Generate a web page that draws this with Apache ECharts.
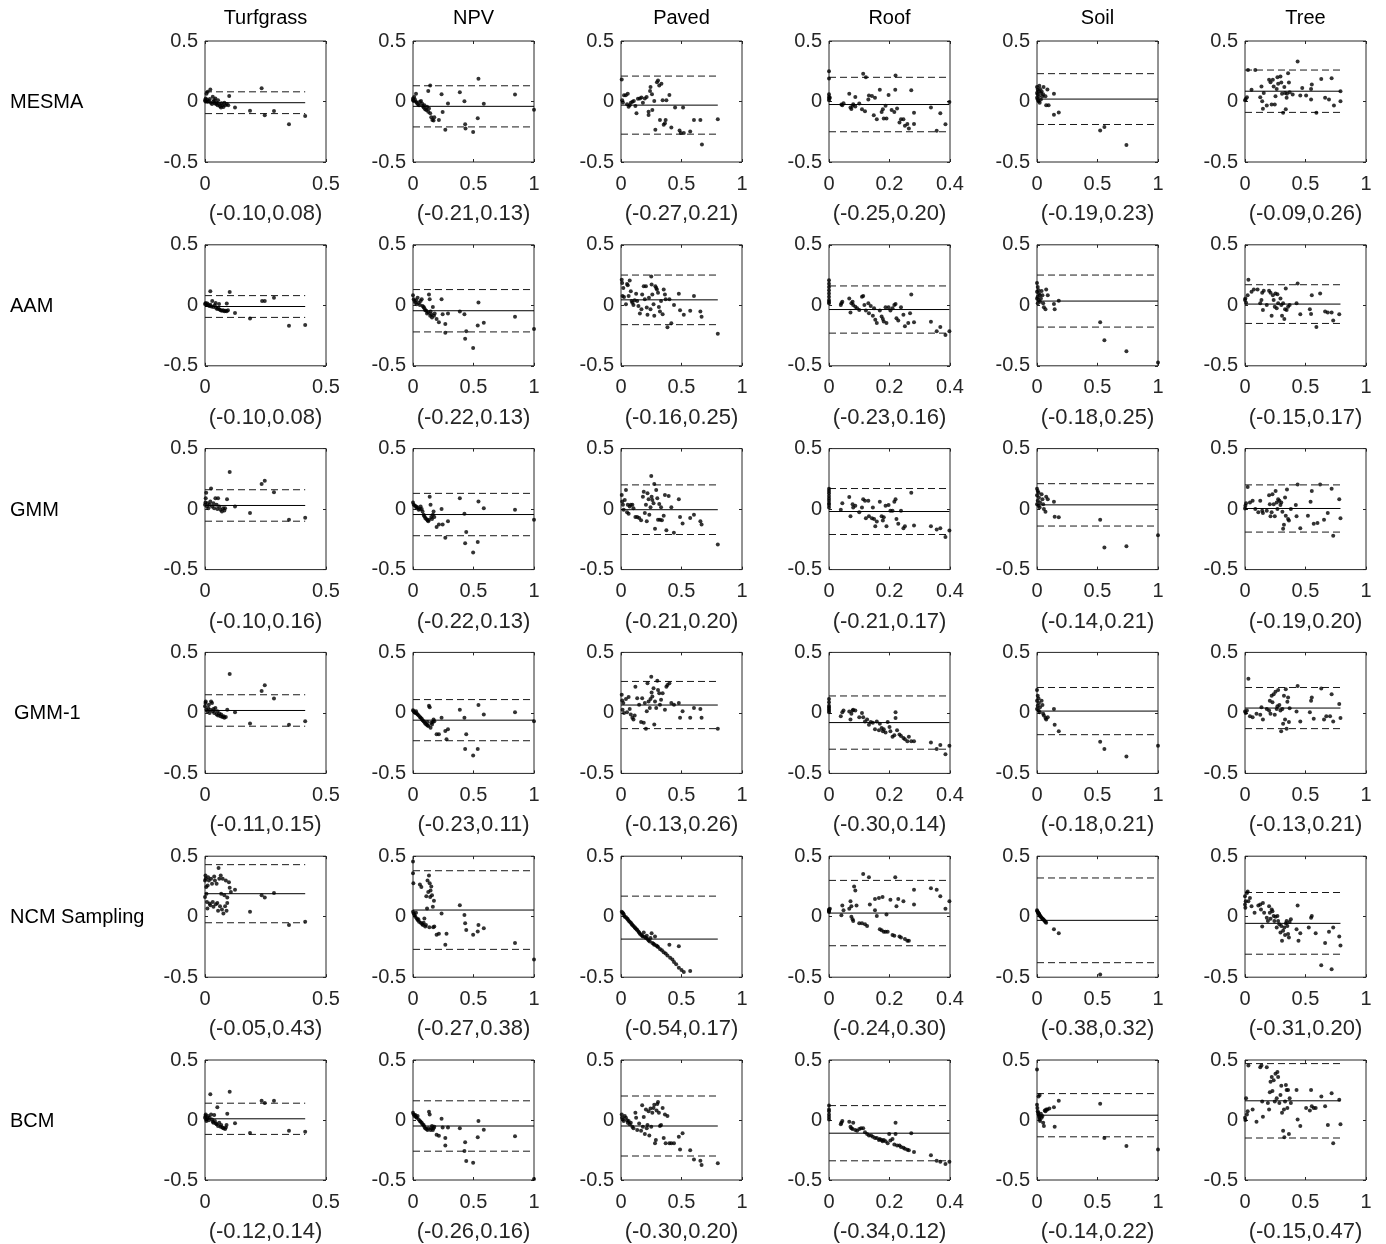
<!DOCTYPE html>
<html>
<head>
<meta charset="utf-8">
<title>Bland-Altman plots by method and class</title>
<script src="https://cdn.jsdelivr.net/npm/echarts@6/dist/echarts.min.js"></script>
<style>
  html, body { margin: 0; padding: 0; background: #fff; }
  #chart { width: 1386px; height: 1244px; }
</style>
</head>
<body>
<div id="chart"></div>
<script>
// ---- categories ----
const METHODS = ['MESMA', 'AAM', 'GMM', 'GMM-1', 'NCM Sampling', 'BCM'];
const CLASSES = ['Turfgrass', 'NPV', 'Paved', 'Roof', 'Soil', 'Tree'];
const X_MAX = [0.5, 1, 1, 0.4, 1, 1];
const X_STEP = [0.5, 0.5, 0.5, 0.2, 0.5, 0.5];

// ---- limits of agreement (lower, upper) per class ----
const limitsMESMA = [[-0.10, 0.08], [-0.21, 0.13], [-0.27, 0.21], [-0.25, 0.20], [-0.19, 0.23], [-0.09, 0.26]];
const limitsAAM   = [[-0.10, 0.08], [-0.22, 0.13], [-0.16, 0.25], [-0.23, 0.16], [-0.18, 0.25], [-0.15, 0.17]];
const limitsGMM   = [[-0.10, 0.16], [-0.22, 0.13], [-0.21, 0.20], [-0.21, 0.17], [-0.14, 0.21], [-0.19, 0.20]];
const limitsGMM1  = [[-0.11, 0.15], [-0.23, 0.11], [-0.13, 0.26], [-0.30, 0.14], [-0.18, 0.21], [-0.13, 0.21]];
const limitsNCM   = [[-0.05, 0.43], [-0.27, 0.38], [-0.54, 0.17], [-0.24, 0.30], [-0.38, 0.32], [-0.31, 0.20]];
const limitsBCM   = [[-0.12, 0.14], [-0.26, 0.16], [-0.30, 0.20], [-0.34, 0.12], [-0.14, 0.22], [-0.15, 0.47]];

// ---- points [x, difference] ----
const mesmaTurfgrass = [[0,0.01],[0.003,0.025],[0.006,0.065],[0.011,0.08],[0.022,0.10],[0.002,0.0],[0.008,0.015],[0.011,-0.003],[0.016,0.005],[0.02,0.02],[0.024,-0.01],[0.029,-0.02],[0.032,0.04],[0.035,0.0],[0.038,0.01],[0.04,-0.015],[0.043,0.025],[0.046,-0.02],[0.048,-0.01],[0.052,-0.03],[0.054,0.01],[0.058,-0.02],[0.062,-0.04],[0.066,-0.05],[0.068,-0.015],[0.072,-0.03],[0.076,-0.045],[0.08,-0.01],[0.084,-0.03],[0.09,-0.02],[0.096,-0.03],[0.1,0.045],[0.124,-0.05],[0.186,-0.076],[0.234,0.11],[0.247,-0.114],[0.285,-0.079],[0.347,-0.188],[0.414,-0.12]];
const mesmaNPV = [[0,0.025],[0,0.011],[0.006,0.005],[0.01,0.038],[0.016,0.016],[0.025,-0.003],[0.025,0.065],[0.031,-0.011],[0.041,-0.022],[0.05,-0.03],[0.057,-0.003],[0.066,0.005],[0.075,-0.016],[0.082,-0.038],[0.088,-0.049],[0.094,-0.03],[0.1,-0.065],[0.11,-0.071],[0.116,-0.043],[0.126,-0.084],[0.126,0.087],[0.132,-0.057],[0.142,-0.098],[0.142,0.133],[0.151,-0.13],[0.16,-0.152],[0.17,-0.158],[0.176,-0.13],[0.214,-0.152],[0.236,0.06],[0.245,-0.087],[0.267,-0.234],[0.289,-0.016],[0.387,0.076],[0.425,0.003],[0.431,-0.188],[0.434,-0.223],[0.497,-0.253],[0.535,-0.139],[0.541,0.188],[0.585,-0.019],[0.843,0.057],[1.0,-0.068]];
const mesmaPaved = [[0.006,0.182],[0.01,0.01],[0.016,-0.008],[0.025,0.052],[0.04,0.052],[0.05,-0.022],[0.056,0.065],[0.063,-0.043],[0.072,-0.03],[0.081,-0.011],[0.094,-0.003],[0.106,0.005],[0.119,-0.038],[0.128,-0.098],[0.14,0.022],[0.156,0.024],[0.169,0.033],[0.181,-0.011],[0.197,0.024],[0.212,0.038],[0.228,-0.084],[0.228,-0.111],[0.24,0.087],[0.244,0.12],[0.256,0.06],[0.259,-0.071],[0.275,0.005],[0.284,-0.234],[0.297,0.16],[0.306,0.174],[0.316,0.133],[0.322,-0.152],[0.334,0.147],[0.344,0.011],[0.353,-0.193],[0.363,-0.179],[0.369,-0.152],[0.375,0.011],[0.4,0.054],[0.416,-0.215],[0.447,-0.049],[0.484,-0.239],[0.494,-0.26],[0.513,-0.049],[0.519,-0.26],[0.572,-0.247],[0.603,-0.152],[0.656,-0.152],[0.669,-0.356],[0.8,-0.147]];
const mesmaRoof = [[0,0.25],[0,0.19],[0,0.06],[0,0.04],[0,0.025],[0,0.01],[0.003,0.03],[0.041,-0.024],[0.044,-0.03],[0.048,-0.014],[0.067,0.065],[0.071,-0.05],[0.074,-0.063],[0.078,-0.035],[0.08,-0.022],[0.087,0.038],[0.087,-0.041],[0.1,-0.016],[0.109,-0.065],[0.113,0.23],[0.119,-0.08],[0.122,0.2],[0.13,0.016],[0.132,0.049],[0.142,0.046],[0.148,-0.114],[0.152,0.03],[0.158,-0.147],[0.168,0.098],[0.174,-0.087],[0.178,-0.065],[0.181,-0.141],[0.187,-0.035],[0.19,-0.141],[0.197,0.054],[0.207,-0.07],[0.216,-0.087],[0.219,0.098],[0.22,0.215],[0.225,-0.057],[0.233,-0.174],[0.238,-0.147],[0.246,-0.147],[0.251,-0.2],[0.259,-0.185],[0.264,-0.223],[0.272,0.092],[0.281,-0.092],[0.281,-0.185],[0.337,-0.049],[0.356,-0.242],[0.368,-0.098],[0.385,-0.188],[0.398,-0.005]];
const mesmaSoil = [[0,0.12],[0.006,0.098],[0.013,0.084],[0,0.071],[0.006,0.057],[0.016,0.043],[0,0.03],[0.006,0.016],[0.013,0.003],[0.022,-0.011],[0.032,0.071],[0.038,0.084],[0.045,0.043],[0.025,0.103],[0.019,0.13],[0.032,0.016],[0.051,0.06],[0.054,0.12],[0.07,0.043],[0.076,-0.03],[0.086,0.1],[0.096,-0.03],[0.14,0.065],[0.14,-0.11],[0.18,-0.09],[0.522,-0.24],[0.557,-0.21],[0.739,-0.36]];
const mesmaTree = [[0,0.01],[0.006,0.02],[0.016,0.035],[0.025,0.26],[0.054,0.098],[0.085,0.26],[0.126,0.035],[0.136,0.125],[0.148,-0.06],[0.142,0.003],[0.155,0.07],[0.18,-0.033],[0.199,0.18],[0.211,0.16],[0.22,-0.024],[0.23,0.18],[0.237,0.125],[0.246,-0.024],[0.252,0.043],[0.262,0.103],[0.268,0.2],[0.274,0.147],[0.293,0.206],[0.3,0.158],[0.306,0.065],[0.315,-0.092],[0.325,0.12],[0.331,0.071],[0.337,-0.065],[0.344,0.03],[0.347,0.065],[0.356,0.234],[0.363,0.158],[0.369,0.076],[0.394,0.057],[0.435,0.33],[0.457,0.049],[0.473,0.111],[0.505,0.049],[0.546,0.016],[0.546,0.103],[0.552,0.14],[0.59,-0.092],[0.63,0.185],[0.662,0.03],[0.694,0.016],[0.716,0.193],[0.735,-0.033],[0.789,0.084],[0.789,0.003]];

const aamTurfgrass = [[0,0.01],[0.003,0.02],[0.006,0.005],[0.01,0.015],[0.014,0.0],[0.018,-0.005],[0.022,0.005],[0.022,0.117],[0.026,-0.01],[0.03,0.035],[0.034,-0.015],[0.04,0.0],[0.044,0.02],[0.045,-0.02],[0.05,-0.03],[0.055,-0.025],[0.058,0.01],[0.06,-0.035],[0.065,-0.04],[0.07,-0.045],[0.075,-0.04],[0.08,-0.05],[0.085,-0.045],[0.09,0.014],[0.09,-0.05],[0.095,-0.04],[0.102,0.109],[0.124,-0.063],[0.186,-0.109],[0.236,0.035],[0.247,0.035],[0.285,0.063],[0.347,-0.168],[0.414,-0.163]];
const aamNPV = [[0,0.084],[0.006,0.049],[0.013,0.035],[0.019,0.022],[0.025,0.041],[0.031,0.008],[0.038,0.063],[0.047,0.022],[0.057,0.003],[0.063,0.035],[0.072,0.049],[0.079,-0.005],[0.088,-0.014],[0.094,-0.024],[0.101,-0.041],[0.11,-0.046],[0.116,-0.068],[0.126,-0.06],[0.132,0.09],[0.138,0.049],[0.142,-0.087],[0.145,-0.052],[0.151,-0.073],[0.157,-0.101],[0.164,-0.014],[0.173,-0.087],[0.179,-0.068],[0.195,-0.114],[0.214,-0.141],[0.236,0.049],[0.245,-0.073],[0.267,-0.155],[0.267,-0.226],[0.289,-0.068],[0.387,-0.052],[0.425,-0.073],[0.431,-0.277],[0.44,-0.215],[0.497,-0.353],[0.535,-0.166],[0.541,0.024],[0.585,-0.144],[0.843,-0.095],[1.0,-0.196]];
const aamPaved = [[0.006,0.212],[0.01,0.185],[0.013,0.076],[0.019,0.144],[0.025,0.068],[0.041,0.008],[0.05,0.177],[0.056,0.166],[0.063,0.076],[0.072,0.204],[0.081,0.117],[0.088,0.035],[0.094,0.022],[0.103,0.003],[0.113,0.041],[0.125,0.095],[0.134,0.035],[0.144,-0.005],[0.156,-0.068],[0.169,-0.033],[0.175,0.09],[0.188,0.158],[0.197,0.049],[0.206,0.158],[0.213,-0.019],[0.219,-0.079],[0.231,0.063],[0.244,-0.033],[0.25,0.239],[0.253,0.171],[0.259,0.09],[0.269,0.008],[0.275,-0.087],[0.284,0.158],[0.291,0.144],[0.297,0.131],[0.306,0.103],[0.313,-0.014],[0.322,-0.052],[0.331,0.035],[0.344,-0.073],[0.353,0.131],[0.363,0.09],[0.369,0.049],[0.384,-0.182],[0.4,0.049],[0.416,-0.149],[0.438,0.003],[0.478,0.095],[0.488,-0.041],[0.519,-0.079],[0.572,-0.046],[0.603,0.076],[0.656,-0.052],[0.666,-0.095],[0.8,-0.236]];
const aamRoof = [[0,0.207],[0,0.179],[0,0.152],[0,0.125],[0,0.098],[0,0.071],[0,0.043],[0,0.03],[0,0.016],[0.039,0.003],[0.041,0.016],[0.044,0.03],[0.067,0.057],[0.071,-0.06],[0.074,0.016],[0.078,0.03],[0.08,0.003],[0.087,-0.011],[0.093,-0.024],[0.1,-0.038],[0.109,0.071],[0.113,0.076],[0.117,0.003],[0.122,-0.043],[0.13,0.016],[0.132,-0.065],[0.138,-0.005],[0.145,-0.087],[0.149,-0.024],[0.153,-0.12],[0.158,-0.147],[0.168,-0.043],[0.174,-0.092],[0.178,-0.114],[0.181,-0.133],[0.187,-0.016],[0.19,-0.147],[0.197,-0.016],[0.203,-0.043],[0.21,-0.024],[0.216,0.003],[0.22,0.011],[0.223,-0.106],[0.229,-0.125],[0.238,-0.016],[0.246,-0.079],[0.251,-0.174],[0.262,-0.147],[0.268,-0.065],[0.272,0.09],[0.281,-0.141],[0.337,-0.136],[0.356,-0.215],[0.368,-0.18],[0.385,-0.245],[0.398,-0.215]];
const aamSoil = [[0,0.185],[0.006,0.152],[0.013,0.125],[0,0.111],[0.016,0.098],[0.022,0.084],[0.006,0.071],[0,0.057],[0.013,0.043],[0.025,0.03],[0.006,0.016],[0.032,0.057],[0.038,0.119],[0.045,0.084],[0.051,0.016],[0.057,-0.016],[0.07,-0.033],[0.076,0.13],[0.089,0.084],[0.14,0.011],[0.146,-0.033],[0.18,0.038],[0.522,-0.141],[0.557,-0.288],[0.739,-0.38],[1.0,-0.473]];
const aamTree = [[0,0.043],[0.003,0.057],[0.009,0.022],[0.022,0.084],[0.028,0.212],[0.054,0.111],[0.073,0.13],[0.104,0.13],[0.126,0.016],[0.136,0.043],[0.142,0.103],[0.148,-0.038],[0.155,0.12],[0.18,0.003],[0.199,0.12],[0.211,0.103],[0.22,-0.087],[0.23,0.084],[0.237,0.043],[0.246,-0.011],[0.252,0.098],[0.262,-0.024],[0.268,0.092],[0.274,0.016],[0.293,0.057],[0.3,0.003],[0.306,-0.087],[0.315,0.016],[0.325,-0.114],[0.331,-0.033],[0.337,0.139],[0.344,-0.038],[0.356,-0.011],[0.369,0.003],[0.426,0.016],[0.435,0.18],[0.457,-0.073],[0.536,-0.033],[0.546,-0.071],[0.552,0.084],[0.59,-0.18],[0.621,0.098],[0.662,-0.052],[0.684,-0.06],[0.716,-0.06],[0.729,-0.125],[0.779,-0.073]];

const gmmTurfgrass = [[0,0.035],[0.002,0.054],[0.003,0.09],[0.005,0.136],[0.008,0.022],[0.011,0.049],[0.014,0.008],[0.019,0.035],[0.022,0.063],[0.025,0.171],[0.029,0.022],[0.035,0.049],[0.038,0.008],[0.043,0.09],[0.048,0.035],[0.051,0.0],[0.054,0.09],[0.059,0.022],[0.064,-0.005],[0.07,-0.019],[0.075,0.008],[0.08,-0.011],[0.083,0.008],[0.091,0.082],[0.102,0.307],[0.124,0.022],[0.186,-0.033],[0.234,0.207],[0.247,0.234],[0.285,0.139],[0.347,-0.087],[0.414,-0.071]];
const gmmNPV = [[0,0.054],[0.006,0.035],[0.016,0.027],[0.025,0.022],[0.031,0.008],[0.038,0.016],[0.047,-0.005],[0.057,0.0],[0.063,0.022],[0.072,0.0],[0.079,-0.019],[0.088,-0.046],[0.094,-0.06],[0.101,-0.073],[0.11,-0.082],[0.12,-0.092],[0.126,-0.1],[0.132,-0.087],[0.138,0.103],[0.145,0.035],[0.151,-0.065],[0.157,-0.082],[0.164,-0.046],[0.17,-0.019],[0.176,-0.065],[0.195,-0.147],[0.214,-0.128],[0.236,0.0],[0.245,-0.128],[0.267,-0.236],[0.289,-0.101],[0.387,0.09],[0.425,-0.038],[0.431,-0.283],[0.44,-0.19],[0.497,-0.359],[0.535,-0.272],[0.541,0.063],[0.585,0.008],[0.843,-0.005],[1.0,-0.087]];
const gmmPaved = [[0.006,0.117],[0.01,0.063],[0.016,0.035],[0.022,-0.005],[0.031,0.076],[0.041,0.158],[0.05,-0.027],[0.056,0.035],[0.063,-0.038],[0.072,0.022],[0.081,0.035],[0.094,0.035],[0.103,0.008],[0.119,-0.065],[0.134,-0.065],[0.15,-0.073],[0.166,-0.092],[0.181,0.103],[0.188,0.144],[0.197,-0.033],[0.206,0.035],[0.213,-0.101],[0.219,0.131],[0.228,0.082],[0.234,-0.046],[0.244,0.016],[0.25,0.274],[0.253,0.103],[0.259,0.076],[0.269,0.049],[0.275,0.207],[0.281,-0.163],[0.291,0.158],[0.3,0.09],[0.306,-0.087],[0.316,0.043],[0.322,-0.087],[0.331,0.016],[0.338,-0.092],[0.353,-0.054],[0.363,0.117],[0.375,-0.174],[0.394,0.109],[0.416,0.016],[0.437,-0.196],[0.478,0.082],[0.488,-0.065],[0.509,-0.12],[0.572,-0.073],[0.603,-0.046],[0.656,-0.1],[0.666,-0.128],[0.8,-0.293]];
const gmmRoof = [[0,0.169],[0,0.149],[0,0.13],[0,0.109],[0,0.087],[0,0.068],[0,0.049],[0,0.033],[0,0.014],[0.039,-0.005],[0.044,0.049],[0.067,0.1],[0.071,-0.06],[0.078,0.041],[0.08,0.014],[0.087,0.027],[0.1,-0.027],[0.109,0.014],[0.113,0.082],[0.119,0.068],[0.122,-0.076],[0.13,0.068],[0.132,-0.06],[0.142,-0.076],[0.145,0.014],[0.149,-0.082],[0.153,-0.141],[0.158,-0.103],[0.168,0.06],[0.174,-0.06],[0.178,-0.095],[0.181,-0.068],[0.187,0.027],[0.19,-0.141],[0.197,0.033],[0.203,-0.014],[0.21,-0.014],[0.216,0.06],[0.22,0.082],[0.223,-0.082],[0.229,-0.122],[0.238,-0.014],[0.246,-0.158],[0.251,-0.141],[0.272,0.136],[0.281,-0.136],[0.337,-0.141],[0.356,-0.169],[0.368,-0.158],[0.385,-0.23],[0.398,-0.177]];
const gmmSoil = [[0,0.168],[0.006,0.149],[0.013,0.136],[0,0.114],[0.016,0.095],[0.006,0.068],[0.025,0.054],[0,0.041],[0.013,0.027],[0.022,0.014],[0.038,0.122],[0.045,0.082],[0.051,0.041],[0.057,0.0],[0.07,-0.022],[0.076,0.103],[0.089,0.082],[0.14,0.06],[0.146,-0.063],[0.18,-0.068],[0.522,-0.087],[0.557,-0.318],[0.739,-0.307],[1.0,-0.217]];
const gmmTree = [[0,0.005],[0.003,0.027],[0.009,0.049],[0.022,0.182],[0.041,0.054],[0.063,0.068],[0.085,0.0],[0.11,-0.027],[0.126,0.068],[0.142,-0.014],[0.148,-0.033],[0.18,-0.014],[0.199,0.114],[0.205,0.041],[0.211,-0.06],[0.22,-0.027],[0.227,0.122],[0.237,0.041],[0.246,-0.06],[0.253,0.15],[0.262,0.054],[0.268,0.0],[0.274,0.082],[0.284,0.068],[0.293,0.033],[0.3,0.054],[0.309,-0.022],[0.315,-0.163],[0.322,-0.13],[0.331,0.095],[0.337,-0.054],[0.347,0.163],[0.356,-0.082],[0.363,-0.095],[0.379,0.0],[0.42,0.033],[0.426,-0.06],[0.435,0.204],[0.457,-0.158],[0.52,-0.054],[0.542,0.06],[0.552,0.15],[0.568,-0.122],[0.599,-0.114],[0.621,0.204],[0.653,-0.087],[0.684,-0.033],[0.716,0.168],[0.729,-0.22],[0.779,0.082],[0.789,-0.076]];

const gmm1Turfgrass = [[0,0.054],[0.002,0.082],[0.003,0.095],[0.006,0.027],[0.01,0.014],[0.013,0.041],[0.016,0.068],[0.019,0.0],[0.022,0.027],[0.025,0.095],[0.029,0.082],[0.032,0.014],[0.035,0.033],[0.038,0.0],[0.043,0.041],[0.048,-0.014],[0.051,0.014],[0.054,-0.022],[0.059,-0.005],[0.064,-0.027],[0.067,-0.014],[0.072,-0.033],[0.077,-0.027],[0.08,-0.041],[0.086,-0.033],[0.092,0.027],[0.102,0.321],[0.124,0.005],[0.186,-0.087],[0.234,0.182],[0.247,0.228],[0.285,0.12],[0.347,-0.098],[0.414,-0.068]];
const gmm1NPV = [[0,0.022],[0.006,0.014],[0.013,0.005],[0.019,0.0],[0.025,0.014],[0.031,-0.005],[0.038,-0.014],[0.047,-0.022],[0.057,-0.033],[0.063,-0.041],[0.072,-0.049],[0.079,-0.06],[0.088,-0.068],[0.094,-0.076],[0.101,-0.087],[0.11,-0.095],[0.12,-0.103],[0.12,-0.076],[0.126,-0.109],[0.132,0.06],[0.138,0.046],[0.145,-0.122],[0.151,-0.082],[0.157,-0.095],[0.164,-0.076],[0.17,-0.054],[0.176,-0.068],[0.195,-0.177],[0.214,-0.177],[0.236,-0.041],[0.267,-0.149],[0.277,-0.217],[0.289,-0.136],[0.387,0.027],[0.425,-0.041],[0.431,-0.299],[0.44,-0.177],[0.497,-0.353],[0.535,-0.299],[0.541,0.065],[0.585,-0.014],[0.843,0.005],[1.0,-0.068]];
const gmm1Paved = [[0.006,0.149],[0.01,0.103],[0.013,0.027],[0.019,0.082],[0.025,0.0],[0.041,0.114],[0.05,0.005],[0.063,0.131],[0.072,0.033],[0.081,-0.014],[0.094,-0.041],[0.103,-0.054],[0.113,-0.022],[0.119,0.217],[0.134,0.122],[0.15,0.068],[0.166,-0.076],[0.175,0.122],[0.188,-0.082],[0.197,0.082],[0.206,-0.13],[0.213,0.014],[0.219,0.245],[0.228,0.095],[0.238,0.041],[0.244,0.114],[0.25,0.299],[0.253,0.168],[0.259,0.136],[0.269,0.204],[0.275,-0.095],[0.281,0.095],[0.291,0.041],[0.3,0.266],[0.306,0.19],[0.316,0.163],[0.322,0.068],[0.331,0.109],[0.344,0.163],[0.363,0.027],[0.375,0.217],[0.384,0.231],[0.4,0.245],[0.416,0.082],[0.438,0.068],[0.478,0.082],[0.488,-0.041],[0.509,0.014],[0.572,-0.041],[0.603,0.041],[0.656,0.033],[0.666,-0.041],[0.8,-0.13]];
const gmm1Roof = [[0,0.114],[0,0.087],[0,0.06],[0,0.046],[0,0.033],[0,0.019],[0,0.005],[0.039,-0.027],[0.044,0.005],[0.048,0.019],[0.067,0.011],[0.071,-0.054],[0.074,-0.008],[0.078,0.019],[0.08,0.027],[0.087,0.019],[0.1,-0.035],[0.109,0.0],[0.113,-0.035],[0.119,-0.071],[0.126,-0.054],[0.132,-0.098],[0.138,-0.076],[0.145,-0.082],[0.152,-0.136],[0.158,-0.071],[0.165,-0.144],[0.168,-0.09],[0.174,-0.125],[0.178,-0.152],[0.181,-0.136],[0.187,-0.163],[0.194,-0.076],[0.2,-0.117],[0.203,-0.152],[0.21,-0.198],[0.216,-0.185],[0.22,0.005],[0.22,-0.043],[0.225,-0.144],[0.233,-0.179],[0.238,-0.19],[0.246,-0.207],[0.251,-0.217],[0.259,-0.234],[0.264,-0.198],[0.272,-0.234],[0.281,-0.234],[0.337,-0.245],[0.356,-0.299],[0.368,-0.266],[0.385,-0.342],[0.398,-0.272]];
const gmm1Soil = [[0,0.19],[0.006,0.141],[0.013,0.12],[0,0.101],[0.016,0.082],[0.006,0.06],[0.025,0.046],[0,0.033],[0.013,0.019],[0.022,0.005],[0.038,0.101],[0.045,0.065],[0.051,-0.008],[0.057,-0.022],[0.07,-0.043],[0.076,-0.054],[0.089,-0.035],[0.14,0.033],[0.146,-0.098],[0.18,-0.152],[0.522,-0.239],[0.557,-0.299],[0.739,-0.361],[1.0,-0.272]];
const gmm1Tree = [[0,0.011],[0.006,0.0],[0.016,0.019],[0.028,0.283],[0.041,-0.027],[0.063,-0.035],[0.095,-0.008],[0.126,-0.016],[0.136,0.046],[0.148,-0.054],[0.18,0.033],[0.199,0.019],[0.205,0.101],[0.211,-0.008],[0.22,0.141],[0.227,0.087],[0.237,0.155],[0.246,-0.016],[0.252,0.174],[0.262,0.033],[0.268,0.054],[0.274,0.19],[0.284,0.065],[0.293,0.019],[0.299,-0.152],[0.309,0.033],[0.315,-0.09],[0.322,0.141],[0.331,-0.054],[0.337,0.196],[0.344,-0.131],[0.35,0.092],[0.356,0.128],[0.363,-0.076],[0.369,0.038],[0.426,0.011],[0.435,0.223],[0.457,-0.071],[0.536,0.005],[0.546,0.1],[0.552,0.128],[0.568,-0.049],[0.63,0.201],[0.653,-0.054],[0.672,-0.027],[0.703,-0.027],[0.716,0.155],[0.729,-0.071],[0.779,0.073],[0.789,-0.043]];

const ncmTurfgrass = [[0,0.163],[0,0.3],[0.002,0.34],[0.003,0.313],[0.005,0.245],[0.006,0.19],[0.008,0.122],[0.01,0.068],[0.011,0.258],[0.013,0.326],[0.016,0.299],[0.019,0.109],[0.022,0.095],[0.025,0.313],[0.029,0.272],[0.032,0.122],[0.035,0.082],[0.038,0.332],[0.041,0.299],[0.045,0.103],[0.048,0.272],[0.051,0.114],[0.054,0.049],[0.056,0.402],[0.059,0.313],[0.062,0.087],[0.065,0.34],[0.067,0.19],[0.07,0.06],[0.073,0.313],[0.076,0.027],[0.08,0.177],[0.083,0.087],[0.086,0.299],[0.089,0.049],[0.092,0.114],[0.099,0.285],[0.102,0.239],[0.107,0.204],[0.124,0.223],[0.092,0.158],[0.186,0.041],[0.234,0.177],[0.247,0.158],[0.285,0.196],[0.347,-0.068],[0.414,-0.041]];
const ncmNPV = [[0,0.457],[0,0.359],[0.003,0.277],[0,0.041],[0.006,0.027],[0.013,0.014],[0.019,0.0],[0.025,0.033],[0.031,-0.014],[0.038,-0.027],[0.044,-0.022],[0.05,-0.041],[0.057,0.266],[0.063,-0.049],[0.069,0.245],[0.075,-0.06],[0.082,-0.068],[0.088,-0.049],[0.094,-0.014],[0.101,-0.082],[0.107,-0.068],[0.11,0.168],[0.116,0.068],[0.12,0.299],[0.126,0.204],[0.132,0.34],[0.135,-0.087],[0.138,0.277],[0.142,0.163],[0.145,0.217],[0.151,0.25],[0.157,0.177],[0.164,0.082],[0.167,-0.087],[0.173,0.131],[0.176,-0.082],[0.195,-0.149],[0.214,-0.141],[0.236,0.027],[0.267,-0.231],[0.277,-0.141],[0.387,0.095],[0.425,0.014],[0.431,-0.054],[0.44,-0.109],[0.497,-0.149],[0.535,-0.122],[0.541,-0.068],[0.585,-0.095],[0.843,-0.217],[1.0,-0.353]];
const ncmPaved = [[0.006,0.041],[0.013,0.033],[0.019,0.027],[0.025,0.014],[0.031,0],[0.041,-0.005],[0.05,-0.014],[0.056,-0.022],[0.063,-0.033],[0.072,-0.041],[0.081,-0.049],[0.088,-0.06],[0.094,-0.068],[0.103,-0.076],[0.113,-0.087],[0.119,-0.095],[0.128,-0.103],[0.134,-0.109],[0.144,-0.122],[0.15,-0.13],[0.156,-0.141],[0.166,-0.149],[0.175,-0.158],[0.181,-0.163],[0.188,-0.13],[0.197,-0.168],[0.206,-0.177],[0.213,-0.158],[0.219,-0.185],[0.228,-0.196],[0.238,-0.204],[0.244,-0.177],[0.253,-0.136],[0.259,-0.217],[0.269,-0.223],[0.275,-0.231],[0.281,-0.163],[0.291,-0.239],[0.3,-0.245],[0.306,-0.25],[0.322,-0.266],[0.338,-0.277],[0.353,-0.293],[0.369,-0.304],[0.384,-0.321],[0.4,-0.231],[0.406,-0.34],[0.425,-0.353],[0.438,-0.375],[0.456,-0.394],[0.478,-0.245],[0.478,-0.421],[0.5,-0.44],[0.519,-0.456],[0.572,-0.448]];
const ncmRoof = [[0,0.06],[0,0.054],[0,0.046],[0,0.038],[0.003,0.065],[0.041,0.011],[0.044,0.092],[0.048,0.054],[0.067,0.065],[0.071,0.128],[0.074,0.087],[0.074,0],[0.078,-0.022],[0.08,-0.035],[0.083,0.25],[0.087,0.217],[0.091,0.092],[0.1,-0.054],[0.109,-0.054],[0.113,0.353],[0.119,-0.063],[0.126,-0.076],[0.132,0.326],[0.135,0.101],[0.152,0.147],[0.152,0.054],[0.158,0.005],[0.165,0.155],[0.168,-0.103],[0.174,-0.111],[0.177,0.163],[0.181,-0.125],[0.187,-0.125],[0.19,0.019],[0.194,-0.125],[0.203,0.141],[0.21,-0.152],[0.216,-0.158],[0.219,0.326],[0.223,0.087],[0.229,0.147],[0.233,-0.163],[0.238,-0.171],[0.246,0.128],[0.251,-0.185],[0.259,-0.198],[0.264,-0.198],[0.281,0.223],[0.281,0.101],[0.337,0.236],[0.356,0.223],[0.368,0.168],[0.385,0.065],[0.398,0.128]];
const ncmSoil = [[0,0.054],[0.003,0.046],[0.006,0.038],[0.01,0.033],[0.013,0.027],[0.016,0.024],[0.019,0.019],[0.022,0.011],[0.025,0.005],[0.032,0.0],[0.038,-0.008],[0.045,-0.016],[0.051,-0.022],[0.057,-0.027],[0.064,-0.035],[0.07,-0.043],[0.076,-0.049],[0.14,-0.103],[0.18,-0.136],[0.522,-0.478]];
const ncmTree = [[0,0.168],[0,0.101],[0.003,0.073],[0.006,0.128],[0.016,0.196],[0.022,0.209],[0.028,0.128],[0.041,0.155],[0.054,0.087],[0.079,0.033],[0.11,0.092],[0.126,0.101],[0.132,0.06],[0.142,-0.082],[0.148,0.114],[0.158,0.033],[0.18,-0.008],[0.189,-0.035],[0.199,0.087],[0.205,0.033],[0.211,-0.016],[0.221,0.06],[0.227,0.046],[0.237,0.005],[0.243,-0.035],[0.252,0],[0.262,-0.09],[0.268,0.005],[0.274,-0.035],[0.284,-0.063],[0.293,-0.13],[0.3,-0.076],[0.306,-0.198],[0.315,-0.117],[0.325,-0.09],[0.331,-0.152],[0.338,-0.054],[0.344,-0.035],[0.35,-0.076],[0.356,-0.144],[0.363,-0.171],[0.369,-0.043],[0.379,-0.022],[0.426,-0.103],[0.435,0.092],[0.442,-0.198],[0.457,-0.136],[0.527,-0.09],[0.546,-0.008],[0.552,0.005],[0.584,-0.136],[0.63,-0.402],[0.662,-0.217],[0.694,-0.125],[0.716,-0.435],[0.729,-0.09],[0.779,-0.163],[0.789,-0.239]];

const bcmTurfgrass = [[0,0.019],[0.002,0.033],[0.003,0.046],[0.005,0.005],[0.006,-0.008],[0.01,0.014],[0.013,0.033],[0.016,-0.003],[0.019,0.019],[0.022,0.215],[0.025,0.046],[0.029,0.005],[0.032,-0.014],[0.035,-0.022],[0.038,0.041],[0.041,-0.008],[0.045,-0.03],[0.048,-0.035],[0.051,0.106],[0.054,-0.049],[0.059,-0.022],[0.064,-0.057],[0.067,-0.041],[0.072,-0.063],[0.076,-0.068],[0.083,-0.076],[0.086,-0.063],[0.089,-0.041],[0.092,0.052],[0.102,0.236],[0.124,-0.027],[0.186,-0.109],[0.234,0.16],[0.247,0.141],[0.285,0.16],[0.347,-0.09],[0.414,-0.098]];
const bcmNPV = [[0,0.06],[0.006,0.046],[0.013,0.033],[0.019,0.041],[0.025,0.024],[0.031,0.019],[0.038,0.033],[0.047,0.005],[0.057,-0.008],[0.063,-0.014],[0.072,-0.022],[0.079,-0.035],[0.088,-0.041],[0.094,-0.057],[0.101,-0.068],[0.11,-0.076],[0.12,-0.084],[0.126,-0.068],[0.132,0.068],[0.138,0.046],[0.145,-0.084],[0.151,-0.068],[0.157,-0.049],[0.164,-0.084],[0.17,-0.068],[0.176,-0.057],[0.195,-0.122],[0.214,-0.131],[0.236,0.011],[0.245,-0.063],[0.267,-0.149],[0.267,-0.212],[0.289,-0.063],[0.387,-0.068],[0.425,-0.258],[0.431,-0.185],[0.44,-0.342],[0.497,-0.356],[0.535,-0.144],[0.541,-0.008],[0.585,-0.082],[0.843,-0.136],[1.0,-0.492]];
const bcmPaved = [[0.006,0.046],[0.009,0.019],[0.016,0.005],[0.022,-0.008],[0.031,0.033],[0.041,0.019],[0.05,-0.003],[0.056,-0.022],[0.063,-0.008],[0.072,-0.035],[0.081,-0.022],[0.094,-0.057],[0.103,-0.068],[0.119,0.06],[0.125,0.019],[0.134,-0.084],[0.15,-0.03],[0.166,-0.09],[0.175,0.122],[0.181,-0.057],[0.188,0.024],[0.197,-0.117],[0.206,0.087],[0.213,-0.068],[0.219,-0.041],[0.228,0.073],[0.234,-0.13],[0.244,0.095],[0.25,-0.057],[0.259,0.06],[0.269,0.101],[0.275,0.128],[0.281,-0.193],[0.288,-0.166],[0.294,0.079],[0.3,0.133],[0.306,0.149],[0.313,0.06],[0.322,-0.049],[0.331,-0.041],[0.344,0.101],[0.353,-0.149],[0.363,0.046],[0.369,-0.193],[0.384,0.033],[0.4,-0.193],[0.416,-0.193],[0.438,-0.193],[0.478,-0.139],[0.488,-0.245],[0.509,-0.111],[0.572,-0.253],[0.603,-0.329],[0.656,-0.34],[0.666,-0.375],[0.8,-0.361]];
const bcmRoof = [[0,0.12],[0,0.087],[0,0.073],[0,0.046],[0,0.024],[0,0.005],[0.039,-0.035],[0.041,-0.022],[0.044,-0.008],[0.067,-0.014],[0.071,-0.057],[0.074,-0.068],[0.078,-0.076],[0.08,-0.022],[0.087,-0.084],[0.093,-0.09],[0.1,-0.076],[0.106,-0.068],[0.113,-0.068],[0.119,-0.103],[0.126,-0.117],[0.132,-0.13],[0.139,-0.13],[0.145,-0.139],[0.152,-0.149],[0.158,-0.149],[0.165,-0.166],[0.168,-0.158],[0.174,-0.166],[0.177,-0.177],[0.181,-0.166],[0.187,-0.177],[0.194,-0.193],[0.199,-0.117],[0.203,-0.171],[0.21,-0.158],[0.216,-0.204],[0.22,-0.022],[0.22,-0.117],[0.225,-0.212],[0.233,-0.212],[0.238,-0.226],[0.246,-0.231],[0.251,-0.239],[0.259,-0.247],[0.264,-0.253],[0.272,-0.111],[0.281,-0.266],[0.337,-0.293],[0.356,-0.34],[0.368,-0.348],[0.385,-0.367],[0.398,-0.348]];
const bcmSoil = [[0,0.421],[0,0.128],[0.003,0.101],[0.006,0.073],[0.01,0.06],[0.013,0.046],[0.016,0.033],[0.019,0.019],[0.022,0.005],[0.025,-0.008],[0.032,0.052],[0.038,0.019],[0.045,0.033],[0.051,-0.022],[0.057,-0.049],[0.064,0.079],[0.07,0.073],[0.076,0.087],[0.086,0.087],[0.102,0.095],[0.14,0.106],[0.146,-0.057],[0.18,0.16],[0.013,0.196],[0.022,0.209],[0.522,0.136],[0.557,-0.149],[0.739,-0.217],[1.0,-0.245]];
const bcmTree = [[0,0.019],[0.003,0],[0.009,0.182],[0.016,0.046],[0.022,0.073],[0.028,0.454],[0.063,0.087],[0.095,-0.014],[0.126,0.44],[0.136,0.454],[0.142,0.155],[0.148,0.027],[0.18,0.44],[0.189,0.141],[0.199,0.087],[0.205,0.231],[0.211,0.318],[0.221,0.359],[0.227,0.242],[0.237,0.332],[0.246,0.155],[0.252,0.386],[0.262,0.182],[0.268,0.4],[0.274,0.359],[0.284,0.141],[0.293,0.209],[0.3,0.285],[0.306,0.06],[0.315,-0.09],[0.322,0.087],[0.325,-0.144],[0.331,0.155],[0.338,0.291],[0.344,0.25],[0.35,0.101],[0.356,0.25],[0.363,-0.117],[0.369,0.182],[0.379,0.141],[0.426,0.25],[0.435,0.005],[0.457,-0.049],[0.505,0.101],[0.536,0.079],[0.546,0.25],[0.552,0.114],[0.568,0.101],[0.584,0.101],[0.631,0.196],[0.662,0.114],[0.685,-0.041],[0.716,0.223],[0.729,-0.193],[0.779,0.168],[0.789,-0.035]];

// ---- assemble rows (one per method) ----
const ROWS = [
  { name: 'MESMA',        limits: limitsMESMA, points: [mesmaTurfgrass, mesmaNPV, mesmaPaved, mesmaRoof, mesmaSoil, mesmaTree] },
  { name: 'AAM',          limits: limitsAAM,   points: [aamTurfgrass, aamNPV, aamPaved, aamRoof, aamSoil, aamTree] },
  { name: 'GMM',          limits: limitsGMM,   points: [gmmTurfgrass, gmmNPV, gmmPaved, gmmRoof, gmmSoil, gmmTree] },
  { name: 'GMM-1',        limits: limitsGMM1,  points: [gmm1Turfgrass, gmm1NPV, gmm1Paved, gmm1Roof, gmm1Soil, gmm1Tree] },
  { name: 'NCM Sampling', limits: limitsNCM,   points: [ncmTurfgrass, ncmNPV, ncmPaved, ncmRoof, ncmSoil, ncmTree] },
  { name: 'BCM',          limits: limitsBCM,   points: [bcmTurfgrass, bcmNPV, bcmPaved, bcmRoof, bcmSoil, bcmTree] }
];

// reference lines run over the full x extent observed for each class
const classExtent = CLASSES.map((_, c) => {
  let mx = 0;
  ROWS.forEach(r => r.points[c].forEach(p => { if (p[0] > mx) mx = p[0]; }));
  return mx;
});

// ---- layout ----
const LEFT0 = 205, COL_STEP = 208, TOP0 = 41, ROW_STEP = 203.8, PW = 121, PH = 121;
const FONT = '"Liberation Sans", Arial, Helvetica, sans-serif';
const AXIS_COLOR = '#262626';

const grids = [], xAxes = [], yAxes = [], series = [], graphics = [];

CLASSES.forEach((cls, c) => {
  graphics.push({
    type: 'text', x: LEFT0 + COL_STEP * c + PW / 2, y: 18,
    style: { text: cls, font: '20px ' + FONT, fill: '#000', textAlign: 'center', textVerticalAlign: 'middle' }
  });
});

ROWS.forEach((row, r) => {
  graphics.push({
    type: 'text', x: row.name === 'GMM-1' ? 14 : 10, y: TOP0 + ROW_STEP * r + PH / 2 + 1,
    style: { text: row.name, font: '20px ' + FONT, fill: '#000', textAlign: 'left', textVerticalAlign: 'middle' }
  });

  CLASSES.forEach((cls, c) => {
    const g = grids.length;
    grids.push({
      left: LEFT0 + COL_STEP * c, top: TOP0 + ROW_STEP * r, width: PW, height: PH,
      show: true, borderColor: AXIS_COLOR, borderWidth: 1, backgroundColor: 'transparent', containLabel: false
    });
    const lo = row.limits[c][0], hi = row.limits[c][1];
    const mean = (lo + hi) / 2;
    const label = '(' + lo.toFixed(2) + ',' + hi.toFixed(2) + ')';

    const xCommon = { type: 'value', min: 0, max: X_MAX[c], interval: X_STEP[c], gridIndex: g, splitLine: { show: false } };
    const yCommon = { type: 'value', min: -0.5, max: 0.5, interval: 0.5, gridIndex: g, splitLine: { show: false } };
    const tick = { show: true, inside: true, length: 3, lineStyle: { color: AXIS_COLOR, width: 1 } };
    const noLine = { show: false, onZero: false };

    xAxes.push(Object.assign({}, xCommon, {
      position: 'bottom',
      axisLine: noLine, axisTick: tick,
      axisLabel: { color: AXIS_COLOR, fontSize: 20, fontFamily: FONT, margin: 12 },
      name: label, nameLocation: 'middle', nameGap: 41,
      nameTextStyle: { color: AXIS_COLOR, fontSize: 22, fontFamily: FONT }
    }));
    xAxes.push(Object.assign({}, xCommon, {
      position: 'top', axisLine: noLine, axisTick: tick, axisLabel: { show: false }
    }));
    yAxes.push(Object.assign({}, yCommon, {
      position: 'left', axisLine: noLine, axisTick: tick,
      axisLabel: { color: AXIS_COLOR, fontSize: 20, fontFamily: FONT, margin: 7 }
    }));
    yAxes.push(Object.assign({}, yCommon, {
      position: 'right', axisLine: noLine, axisTick: tick, axisLabel: { show: false }
    }));

    const xi = 2 * g, yi = 2 * g;
    const span = classExtent[c];
    const refLine = (v, dashed) => ({
      type: 'line', xAxisIndex: xi, yAxisIndex: yi, data: [[0, v], [span, v]],
      showSymbol: false, symbol: 'none', silent: true, clip: true, z: 2,
      lineStyle: { color: dashed ? '#1a1a1a' : '#000', width: 1, type: dashed ? [7, 4] : 'solid' }
    });
    series.push(refLine(mean, false));
    series.push(refLine(lo, true));
    series.push(refLine(hi, true));
    series.push({
      type: 'scatter', xAxisIndex: xi, yAxisIndex: yi, data: row.points[c],
      symbol: 'circle', symbolSize: 4, itemStyle: { color: '#000' }, silent: true, z: 3
    });
  });
});

const chart = echarts.init(document.getElementById('chart'), null, { renderer: 'canvas' });
chart.setOption({
  animation: false,
  backgroundColor: '#fff',
  grid: grids,
  xAxis: xAxes,
  yAxis: yAxes,
  series: series,
  graphic: graphics
});
</script>
</body>
</html>
